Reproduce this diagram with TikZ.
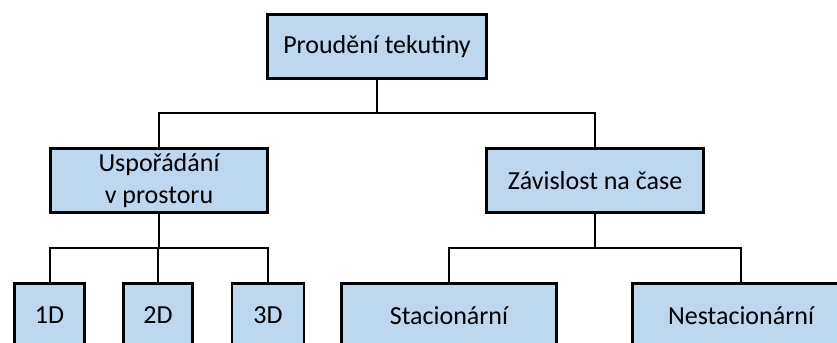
\documentclass[tikz,border=0pt]{standalone}
\usepackage{fontspec}
\setmainfont{Carlito}
\definecolor{boxblue}{RGB}{189,215,238}
\tikzset{
  box/.style={draw, line width=2.2pt, fill=boxblue, minimum height=48pt,
    inner sep=0pt, align=center, font=\fontsize{19.5}{23.5}\selectfont},
  link/.style={line width=1.5pt},
}

\begin{document}
\begin{tikzpicture}[x=0.75pt, y=-0.75pt]
  \useasboundingbox (0,0) rectangle (837,342);
  \clip (0,0) rectangle (837,342);
  % levels of the tree
  \node[box, minimum width=164pt] (flow) at (377,46.5) {Proudění tekutiny};
  \node[box, minimum width=163pt] (space) at (159,180.5) {Uspořádání\\v prostoru};
  \node[box, minimum width=163pt] (time) at (595,180.5) {Závislost na čase};
  \node[box, minimum width=53pt] (d1) at (49.5,315.5) {1D};
  \node[box, minimum width=52pt] (d2) at (158,315.5) {2D};
  \node[box, minimum width=54pt] (d3) at (268,315.5) {3D};
  \node[box, minimum width=161pt] (steady) at (449,315.5) {Stacionární};
  \node[box, minimum width=163pt] (unsteady) at (741,315.5) {Nestacionární};
  % forks
  \foreach \c in {space,time}
    \draw[link] (flow.south) -- ++(0,33) -| (\c.north);
  \foreach \c in {d1,d2,d3}
    \draw[link] (space.south) -- ++(0,34) -| (\c.north);
  \foreach \c in {steady,unsteady}
    \draw[link] (time.south) -- ++(0,34) -| (\c.north);
\end{tikzpicture}
\end{document}
